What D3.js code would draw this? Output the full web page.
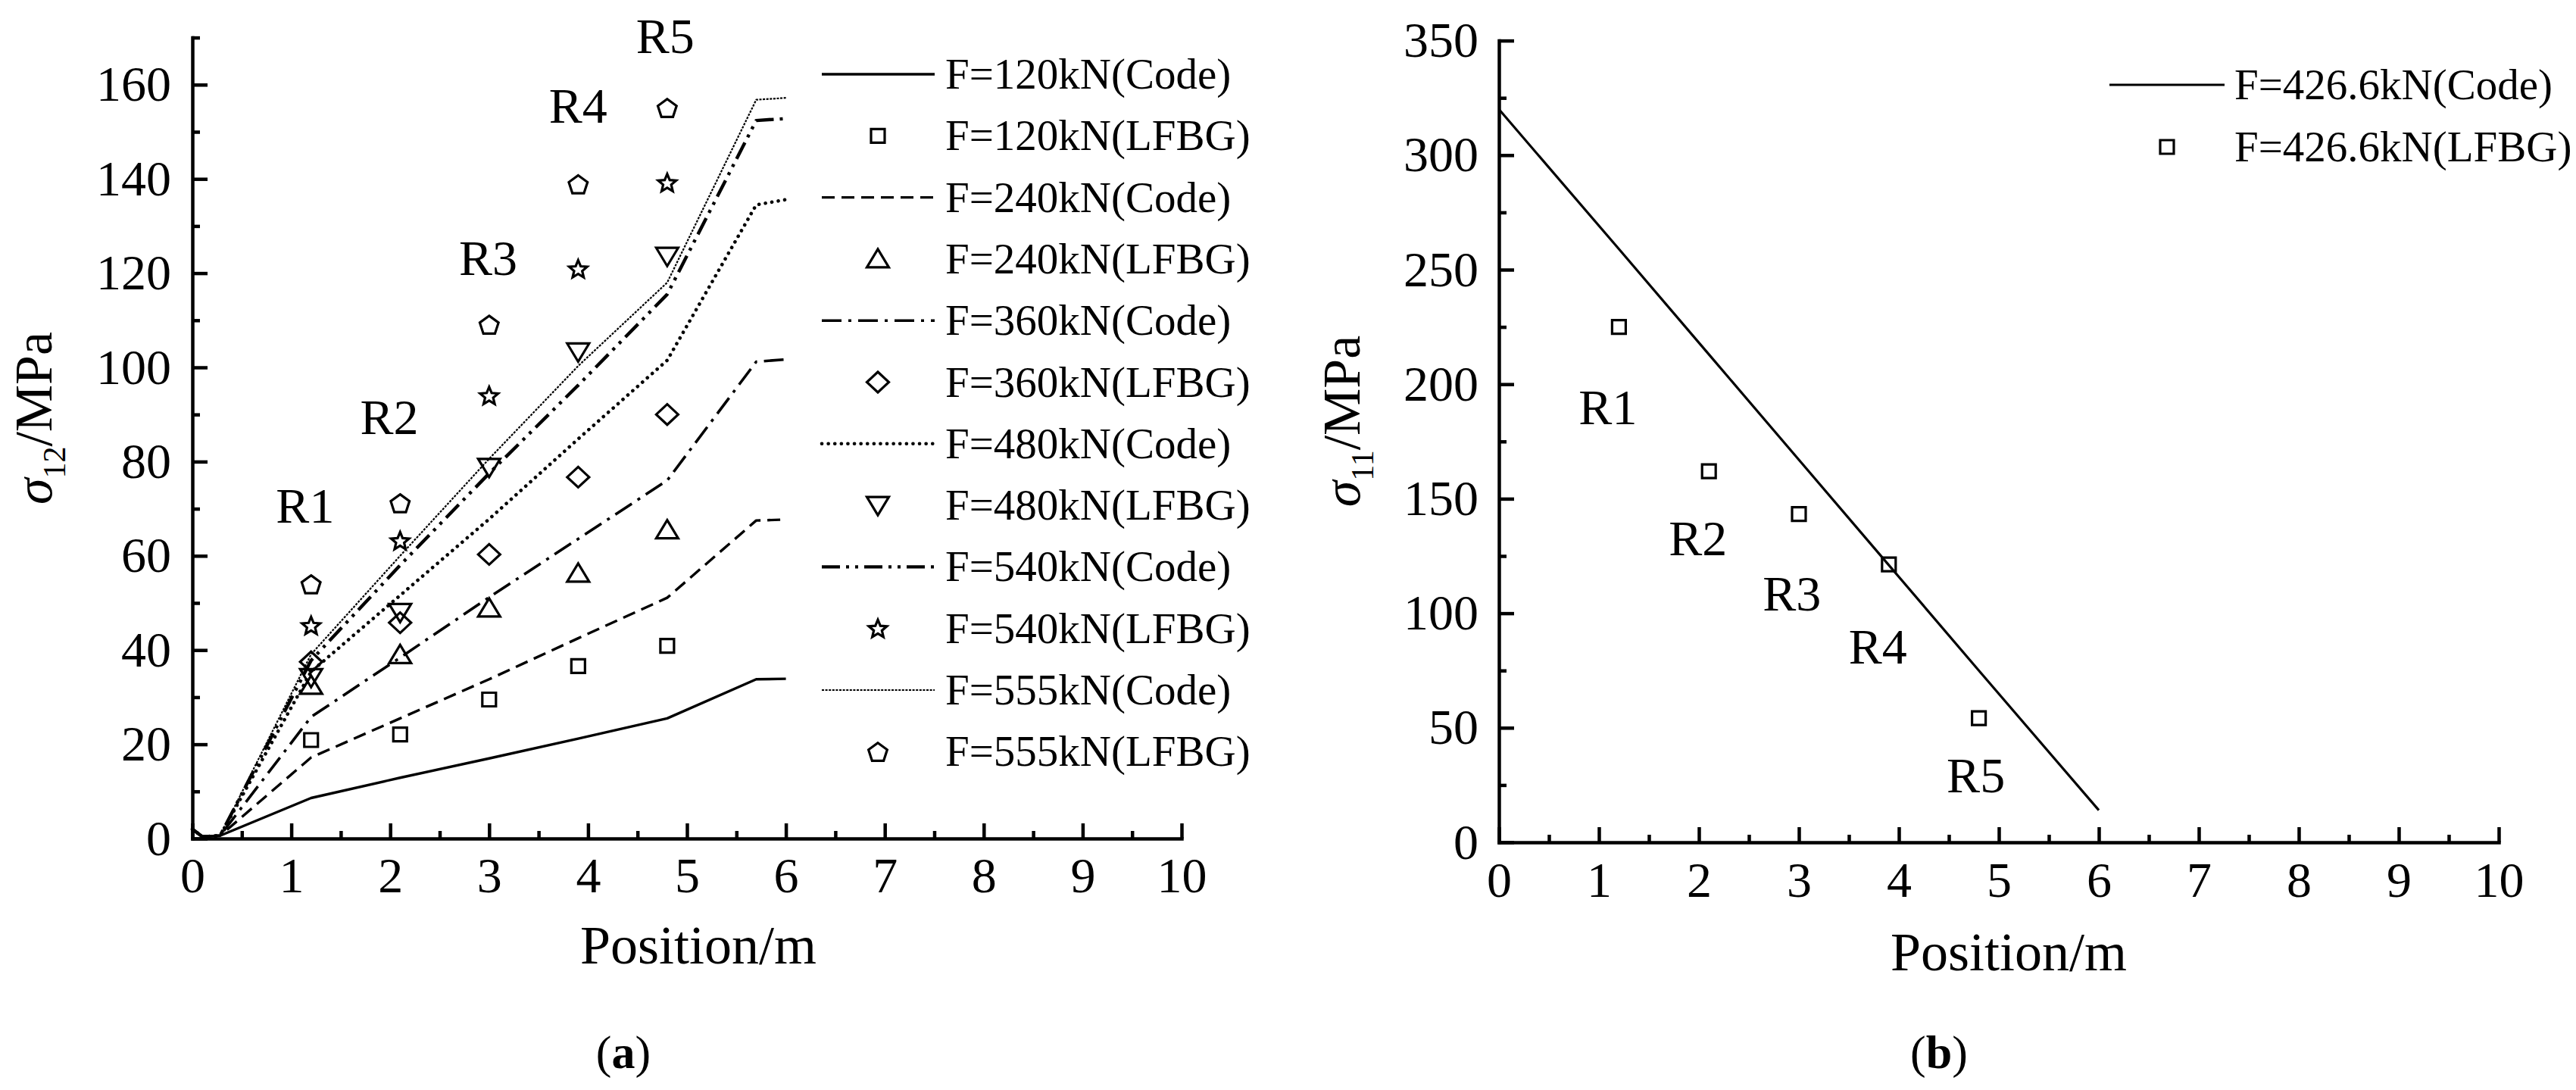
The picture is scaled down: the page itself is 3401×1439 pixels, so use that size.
<!DOCTYPE html>
<html><head><meta charset="utf-8">
<script src="https://cdn.jsdelivr.net/npm/d3@7"></script>
<style>
body{margin:0;background:#fff}
svg{display:block;background:#fff}
text{font-family:'Liberation Serif','Times New Roman',serif;fill:#000}
</style>
</head><body>
<svg id="chart" width="3401" height="1439"></svg>
<script>
// ================= DATA =================
// Panel (a): sigma12 along position, Code curves and LFBG measurements
const positionsA = [0, 0.1, 0.28, 1.2, 2.1, 3.0, 3.9, 4.8, 5.7, 6.0];
const code120 = [2.0, 0.4, 0.6, 8.6, 12.9, 17.0, 21.2, 25.5, 33.8, 33.9];
const code240 = [2.0, 0.4, 0.6, 17.2, 25.5, 33.8, 42.5, 51.1, 67.5, 67.7];
const code360 = [2.0, 0.4, 0.6, 25.8, 38.4, 51.2, 63.6, 76.0, 101.2, 101.7];
const code480 = [2.0, 0.4, 0.6, 35.4, 51.6, 67.8, 84.8, 101.5, 134.5, 135.6];
const code540 = [2.0, 0.4, 0.6, 37.8, 58.0, 77.5, 96.2, 115.5, 152.4, 152.8];
const code555 = [2.0, 0.4, 0.6, 39.1, 60.0, 80.6, 100.3, 118.0, 156.8, 157.2];

const sensorPositions = [1.2, 2.1, 3.0, 3.9, 4.8];
const lfbg120 = [20.9, 22.1, 29.5, 36.6, 40.9];
const lfbg240 = [32.5, 39.0, 48.9, 56.3, 65.5];
const lfbg360 = [37.5, 45.8, 60.3, 76.7, 90.0];
const lfbg480 = [34.2, 48.0, 78.8, 103.3, 123.6];
const lfbg540 = [45.2, 63.2, 94.0, 120.9, 139.2];
const lfbg555 = [54.0, 71.2, 109.1, 138.9, 155.1];

const loadsA = ["120", "240", "360", "480", "540", "555"];
const sensorLabels = ["R1", "R2", "R3", "R4", "R5"];
// sensor label anchor points (data units: position, MPa)
const sensorLabelPosA = [[1.14, 70.7], [1.99, 89.5], [2.99, 123.2], [3.90, 155.5], [4.78, 170.4]];

// Panel (b): sigma11 along position
const positionsB = [0, 1.2, 2.1, 3.0, 3.9, 4.8, 6.0];
const code426 = [320, 259, 213, 167, 121, 75, 14];
const lfbg426 = [225, 162, 143.3, 121.3, 54.2];
const loadB = "426.6";
const sensorLabelPosB = [[1.09, 189.8], [1.99, 132.6], [2.93, 108.5], [3.79, 85.6], [4.77, 29.4]];

// Ticks
const xTicks = [0, 1, 2, 3, 4, 5, 6, 7, 8, 9, 10];
const xMinorTicks = [0.5, 1.5, 2.5, 3.5, 4.5, 5.5, 6.5, 7.5, 8.5, 9.5];
const yTicksA = [0, 20, 40, 60, 80, 100, 120, 140, 160];
const yMinorTicksA = [10, 30, 50, 70, 90, 110, 130, 150, 170];
const yTicksB = [0, 50, 100, 150, 200, 250, 300, 350];
const yMinorTicksB = [25, 75, 125, 175, 225, 275, 325];

// ================= STYLES =================
const FONT = "'Liberation Serif','Times New Roman',serif";
const lineStyles = {
  "120": {w: 3.4, dash: null, cap: "butt"},
  "240": {w: 3.4, dash: "17,9", cap: "butt"},
  "360": {w: 3.6, dash: "26,9,4,9", cap: "butt"},
  "480": {w: 4.6, dash: "0.1,8.5", cap: "round"},
  "540": {w: 4.4, dash: "24,8,4,8,4,8", cap: "butt"},
  "555": {w: 2.2, dash: "3,1.6", cap: "butt"},
  "426.6": {w: 3.2, dash: null, cap: "butt"}
};
const markerShapes = {"120": "square", "240": "triUp", "360": "diamond", "480": "triDown", "540": "star", "555": "pentagon", "426.6": "square"};

function shapePath(kind) {
  switch (kind) {
    case "square": return "M-9,-9H9V9H-9Z";
    case "triUp": return "M0,-13L14.5,11L-14.5,11Z";
    case "triDown": return "M-14.5,-11L14.5,-11L0,13Z";
    case "diamond": return "M0,-13.5L14.5,0L0,13.5L-14.5,0Z";
    case "star": {
      const pts = [];
      for (let i = 0; i < 10; i++) {
        const r = i % 2 === 0 ? 12.5 : 5.6;
        const a = -Math.PI / 2 + i * Math.PI / 5;
        pts.push([r * Math.cos(a), r * Math.sin(a) + 1]);
      }
      return "M" + pts.map(p => p[0].toFixed(2) + "," + p[1].toFixed(2)).join("L") + "Z";
    }
    case "pentagon": {
      const pts = [];
      for (let i = 0; i < 5; i++) {
        const a = -Math.PI / 2 + i * 2 * Math.PI / 5;
        pts.push([13 * Math.cos(a), 13 * Math.sin(a) + 1.5]);
      }
      return "M" + pts.map(p => p[0].toFixed(2) + "," + p[1].toFixed(2)).join("L") + "Z";
    }
  }
}

const svg = d3.select("#chart");

// ================= AXES =================
function drawAxes(x, y, yMajor, yMinor, xPad, yPad) {
  const g = svg.append("g");
  const style = sel => {
    sel.attr("font-family", FONT).attr("font-size", 66);
    sel.selectAll("line").attr("stroke", "#000").attr("stroke-width", 4.5);
    sel.selectAll(".domain").attr("stroke", "#000").attr("stroke-width", 4.5).attr("stroke-linecap", "square");
    sel.selectAll("text").attr("fill", "#000");
  };
  // x axis
  g.append("g").attr("transform", `translate(0,${y(0)})`)
    .call(d3.axisBottom(x).tickValues(xMinorTicks).tickSize(-10).tickSizeOuter(0).tickFormat(""))
    .call(style).call(s => s.select(".domain").remove());
  g.append("g").attr("transform", `translate(0,${y(0)})`)
    .call(d3.axisBottom(x).tickValues(xTicks).tickSize(-20).tickSizeOuter(0).tickPadding(xPad).tickFormat(d3.format("d")))
    .call(style);
  // y axis
  g.append("g").attr("transform", `translate(${x(0)},0)`)
    .call(d3.axisLeft(y).tickValues(yMinor).tickSize(-10).tickSizeOuter(0).tickFormat(""))
    .call(style).call(s => s.select(".domain").remove());
  g.append("g").attr("transform", `translate(${x(0)},0)`)
    .call(d3.axisLeft(y).tickValues(yMajor).tickSize(-20).tickSizeOuter(0).tickPadding(yPad).tickFormat(d3.format("d")))
    .call(style);
}

function yTitle(cx, cy, sub) {
  const t = svg.append("text")
    .attr("transform", `translate(${cx},${cy}) rotate(-90)`)
    .attr("text-anchor", "middle").attr("font-size", 70);
  t.append("tspan").attr("font-style", "italic").text("σ");
  t.append("tspan").attr("font-size", 42).attr("dy", 18).text(sub);
  t.append("tspan").attr("dy", -18).text("/MPa");
}

function drawCode(x, y, xs, vals, key) {
  const st = lineStyles[key];
  svg.append("path")
    .datum(d3.zip(xs, vals))
    .attr("fill", "none").attr("stroke", "#000")
    .attr("stroke-width", st.w)
    .attr("stroke-dasharray", st.dash)
    .attr("stroke-linecap", st.cap)
    .attr("stroke-linejoin", "round")
    .attr("d", d3.line().x(d => x(d[0])).y(d => y(d[1])));
}

function drawMarkers(x, y, xs, vals, key) {
  svg.append("g").selectAll("path")
    .data(d3.zip(xs, vals)).join("path")
    .attr("d", shapePath(markerShapes[key]))
    .attr("transform", d => `translate(${x(d[0])},${y(d[1])})`)
    .attr("fill", "none").attr("stroke", "#000").attr("stroke-width", 3.2)
    .attr("stroke-linejoin", "miter");
}

function legendRow(x0, x1, xm, xt, cy, kind, key, label) {
  if (kind === "line") {
    const st = lineStyles[key];
    svg.append("line").attr("x1", x0).attr("x2", x1).attr("y1", cy).attr("y2", cy)
      .attr("stroke", "#000").attr("stroke-width", st.w)
      .attr("stroke-dasharray", st.dash).attr("stroke-linecap", st.cap);
  } else {
    svg.append("path").attr("d", shapePath(markerShapes[key]))
      .attr("transform", `translate(${xm},${cy})`)
      .attr("fill", "none").attr("stroke", "#000").attr("stroke-width", 3.2);
  }
  svg.append("text").attr("x", xt).attr("y", cy + 19).attr("font-size", 57).text(label);
}

// ================= PANEL (a) =================
const xA = d3.scaleLinear().domain([0, 10]).range([254, 1560]);
const yA = d3.scaleLinear().domain([0, 170]).range([1107, 49.6]);

const codeA = [code120, code240, code360, code480, code540, code555];
const lfbgA = [lfbg120, lfbg240, lfbg360, lfbg480, lfbg540, lfbg555];

codeA.forEach((vals, i) => drawCode(xA, yA, positionsA, vals, loadsA[i]));
lfbgA.forEach((vals, i) => drawMarkers(xA, yA, sensorPositions, vals, loadsA[i]));
drawAxes(xA, yA, yTicksA, yMinorTicksA, 24, 28);

sensorLabels.forEach((lab, i) => {
  svg.append("text").attr("x", xA(sensorLabelPosA[i][0])).attr("y", yA(sensorLabelPosA[i][1]))
    .attr("dy", "0.34em").attr("text-anchor", "middle").attr("font-size", 66).text(lab);
});

yTitle(68, 552, "12");
svg.append("text").attr("x", 922).attr("y", 1272).attr("text-anchor", "middle").attr("font-size", 72).text("Position/m");

// legend (a)
loadsA.forEach((ld, i) => {
  const c1 = 98 + (2 * i) * 81.3, c2 = 98 + (2 * i + 1) * 81.3;
  legendRow(1085, 1234, 1159, 1248, c1, "line", ld, `F=${ld}kN(Code)`);
  legendRow(1085, 1234, 1159, 1248, c2, "marker", ld, `F=${ld}kN(LFBG)`);
});

// ================= PANEL (b) =================
const xB = d3.scaleLinear().domain([0, 10]).range([1979, 3299]);
const yB = d3.scaleLinear().domain([0, 350]).range([1112, 53.6]);

drawCode(xB, yB, positionsB, code426, loadB);
drawMarkers(xB, yB, sensorPositions, lfbg426, loadB);
drawAxes(xB, yB, yTicksB, yMinorTicksB, 25, 27);

sensorLabels.forEach((lab, i) => {
  svg.append("text").attr("x", xB(sensorLabelPosB[i][0])).attr("y", yB(sensorLabelPosB[i][1]))
    .attr("dy", "0.34em").attr("text-anchor", "middle").attr("font-size", 66).text(lab);
});

yTitle(1795, 556, "11");
svg.append("text").attr("x", 2652).attr("y", 1281).attr("text-anchor", "middle").attr("font-size", 72).text("Position/m");

legendRow(2785, 2937, 2861, 2950, 112, "line", loadB, `F=${loadB}kN(Code)`);
legendRow(2785, 2937, 2861, 2950, 194, "marker", loadB, `F=${loadB}kN(LFBG)`);

// ================= CAPTIONS =================
function caption(cx, letter) {
  const t = svg.append("text").attr("x", cx).attr("y", 1410).attr("text-anchor", "middle").attr("font-size", 62);
  t.append("tspan").text("(");
  t.append("tspan").attr("font-weight", "bold").text(letter);
  t.append("tspan").text(")");
}
caption(823, "a");
caption(2560, "b");
</script>
</body></html>
